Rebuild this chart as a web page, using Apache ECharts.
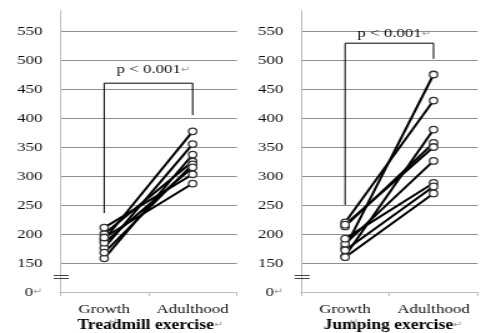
<!DOCTYPE html>
<html><head><meta charset="utf-8">
<script src="https://cdn.jsdelivr.net/npm/echarts@6/dist/echarts.min.js"></script>
<style>
html,body{margin:0;padding:0;background:#fff;overflow:hidden}
#wrap{width:486px;height:333px;overflow:hidden;position:relative}
#c{width:389px;height:333px;transform:scaleX(1.2494);transform-origin:0 0}
</style></head><body><div id="wrap"><div id="c"></div></div>
<script>
// ---- data ----
const categories = ['Growth', 'Adulthood'];
const yTickValues = [100, 150, 200, 250, 300, 350, 400, 450, 500, 550];
const yTickLabels = ['0', '150', '200', '250', '300', '350', '400', '450', '500', '550'];
const treadGrowth = [190, 176, 158, 200, 168, 185, 211, 194];
const treadAdult  = [377, 355, 337, 325, 320, 315, 303, 287];
const jumpGrowth  = [176, 220, 162, 213, 216, 183, 192, 172, 160];
const jumpAdult   = [475, 430, 380, 357, 350, 326, 288, 282, 270];
const treadBracket = [236, 460, 405];   // left foot, top, right foot
const jumpBracket  = [250, 529, 502];
const pText = 'p < 0.001';
const panelTitles = ['Treadmill exercise', 'Jumping exercise'];
const breakValues = [129, 124];

const SERIF = "'Liberation Serif','Times New Roman',serif";
const ARROW = "'DejaVu Sans',sans-serif";
const chart = echarts.init(document.getElementById('c'), null, {renderer: 'canvas'});

function labelFor(v) {
  const i = yTickValues.indexOf(v);
  if (i < 0) return '';
  return i === 0 ? yTickLabels[i] + '{g|\u21B5}' : yTickLabels[i];
}

const grids = [
  {left: 48, top: 10.7, width: 141.6, height: 281.3},
  {left: 240.8, top: 10.7, width: 141.6, height: 281.3}
];
const xAxes = [0, 1].map(i => ({
  type: 'category', gridIndex: i, data: categories, boundaryGap: true,
  axisLine: {lineStyle: {color: '#bdbdbd', width: 1}},
  axisTick: {show: true, length: 4, lineStyle: {color: '#bdbdbd'}},
  axisLabel: {
    interval: 0, hideOverlap: false,
    margin: 10, color: '#111', fontFamily: SERIF, fontSize: 13.5, verticalAlign: 'top',
    formatter: v => v === 'Growth' ? v + '\n{g|\u21B5}' : v,
    rich: {g: {fontFamily: ARROW, fontSize: 9, color: '#999', padding: [0, 0, 0, 14], lineHeight: 11}}
  },
  splitLine: {show: false}
}));
const yAxes = [0, 1].map(i => ({
  type: 'value', gridIndex: i, min: 100, max: 585, interval: 50,
  axisLine: {show: true, lineStyle: {color: '#bdbdbd', width: 1}},
  axisTick: {show: false},
  axisLabel: {
    margin: 14, color: '#111', fontFamily: SERIF, fontSize: 13.5,
    showMaxLabel: false, formatter: labelFor,
    rich: {g: {fontFamily: ARROW, fontSize: 9, color: '#999'}}
  },
  splitLine: {show: true, showMaxLine: false, showMinLine: false, lineStyle: {color: '#8f8f8f', width: 1}}
}));

const series = [];
function addPanel(idx, growth, adult, bracket) {
  series.push({
    type: 'line', xAxisIndex: idx, yAxisIndex: idx, symbol: 'none', silent: true,
    lineStyle: {color: '#000', width: 1}, z: 1,
    data: [[categories[0], bracket[0]], [categories[0], bracket[1]], [categories[1], bracket[1]], [categories[1], bracket[2]]]
  });
  growth.forEach((g, k) => {
    series.push({
      type: 'line', xAxisIndex: idx, yAxisIndex: idx, z: 3,
      symbol: 'circle', symbolSize: 6.5,
      itemStyle: {color: '#fff', borderColor: '#333', borderWidth: 1.3},
      lineStyle: {color: '#000', width: 2},
      data: [[categories[0], g], [categories[1], adult[k]]]
    });
  });
}
addPanel(0, treadGrowth, treadAdult, treadBracket);
addPanel(1, jumpGrowth, jumpAdult, jumpBracket);

chart.setOption({
  animation: false,
  backgroundColor: '#fff',
  grid: grids, xAxis: xAxes, yAxis: yAxes, series: series
});

// ---- annotations placed through the axes' own scales ----
const graphics = [];
[[0, treadBracket, 14], [1, jumpBracket, 10]].forEach(([idx, br, off]) => {
  const a = chart.convertToPixel({gridIndex: idx}, [0, br[1]]);
  const b = chart.convertToPixel({gridIndex: idx}, [1, br[1]]);
  graphics.push({
    type: 'text', x: (a[0] + b[0]) / 2 + 4, y: a[1] - off, z: 10,
    style: {
      text: '{t|' + pText + '}{g|\u21B5}', textAlign: 'center', textVerticalAlign: 'middle',
      rich: {t: {fontFamily: SERIF, fontSize: 13.5, fill: '#111'}, g: {fontFamily: ARROW, fontSize: 9, fill: '#999'}}
    }
  });
  const x0 = grids[idx].left;
  breakValues.forEach(v => {
    const y = Math.round(chart.convertToPixel({gridIndex: idx}, [0, v])[1]) + 0.5;
    graphics.push({type: 'line', z: 10, shape: {x1: x0 - 5, y1: y, x2: x0 + 7, y2: y}, style: {stroke: '#444', lineWidth: 1}});
  });
  const c = (a[0] + b[0]) / 2;
  graphics.push({
    type: 'text', x: c + (idx === 0 ? 1.5 : 3), y: 325, z: 10,
    style: {
      text: '{t|' + panelTitles[idx] + '}{g|\u21B5}', textAlign: 'center', textVerticalAlign: 'middle',
      rich: {t: {fontFamily: SERIF, fontSize: 14, fontWeight: 'bold', fill: '#000'}, g: {fontFamily: ARROW, fontSize: 9, fill: '#999'}}
    }
  });
});
chart.setOption({graphic: graphics});
</script></body></html>
